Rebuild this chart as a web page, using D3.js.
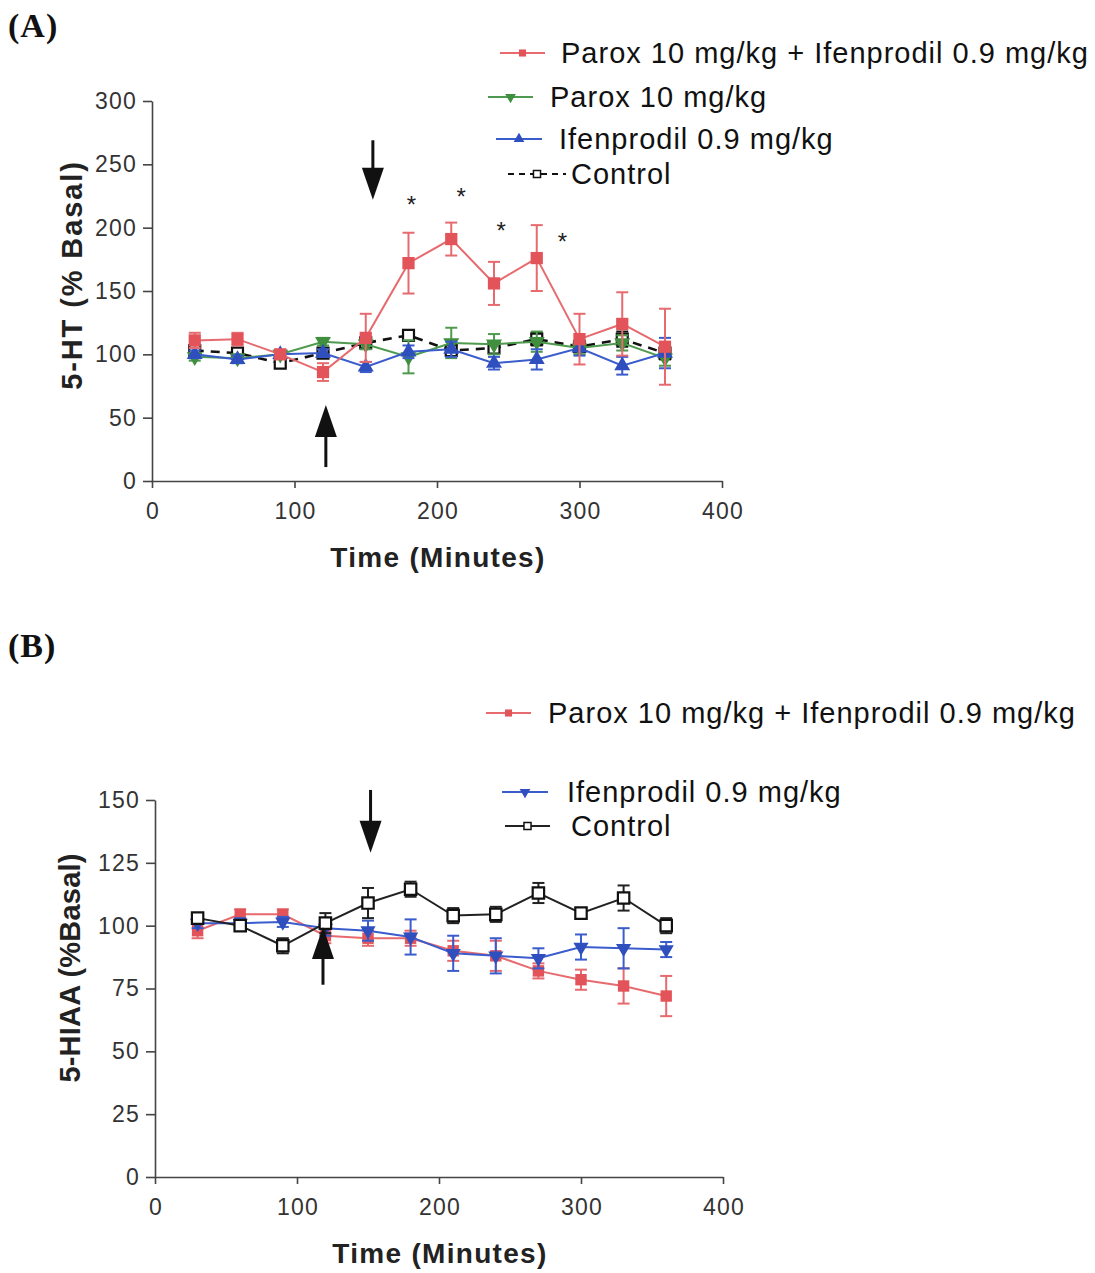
<!DOCTYPE html>
<html>
<head>
<meta charset="utf-8">
<script src="https://cdn.jsdelivr.net/npm/d3@7"></script>
<style>
  html, body { margin: 0; padding: 0; background: #fff; }
  svg { display: block; }
  text { font-family: "Liberation Sans", Arial, sans-serif; }
</style>
</head>
<body>
<svg id="fig" width="1095" height="1273"></svg>
<script>
// Sampling times (minutes)
const times = [30, 60, 90, 120, 150, 180, 210, 240, 270, 300, 330, 360];

// Panel A: extracellular 5-HT (% basal), mean and SEM
const htComboMean   = [111, 112, 100, 86, 113, 172, 191, 156, 176, 112, 124, 106];
const htComboSem    = [6, 5, 3, 7, 19, 24, 13, 17, 26, 20, 25, 30];
const htParoxMean   = [98, 97, 100, 110, 108, 98, 109, 108, 110, 105, 109, 97];
const htParoxSem    = [3, 3, 3, 3, 4, 13, 12, 8, 8, 5, 6, 6];
const htIfenMean    = [100, 96, 100, 101, 90, 102, 104, 93, 96, 105, 91, 101];
const htIfenSem     = [3, 3, 3, 3, 4, 5, 6, 5, 8, 6, 7, 12];
const htControlMean = [103, 101, 93, 101, 109, 115, 103, 105, 112, 106, 112, 101];
const htControlSem  = [3, 3, 3, 3, 4, 3, 4, 4, 5, 4, 6, 5];

// Panel B: extracellular 5-HIAA (% basal), mean and SEM
const hiaaComboMean   = [98, 104.5, 104.5, 96, 95, 95, 90, 88, 82, 78.5, 76, 72];
const hiaaComboSem    = [3, 2, 2, 3, 3, 3, 4, 6, 3, 4, 7, 8];
const hiaaIfenMean    = [101, 101, 101.5, 99, 98, 95.5, 89, 88, 87, 91.5, 91, 90.5];
const hiaaIfenSem     = [2, 2, 2, 3, 4, 7, 7, 7, 4, 5, 8, 3];
const hiaaControlMean = [103, 100, 92, 101, 109, 114.5, 104, 104.5, 113, 105, 111, 100];
const hiaaControlSem  = [2, 2, 3, 4, 6, 3, 3, 3, 4, 2, 5, 3];

// Axis ticks
const xTicks  = [0, 100, 200, 300, 400];
const yTicksA = [0, 50, 100, 150, 200, 250, 300];
const yTicksB = [0, 25, 50, 75, 100, 125, 150];

// Legend labels
const labelCombo   = "Parox 10 mg/kg + Ifenprodil 0.9 mg/kg";
const labelParox   = "Parox 10 mg/kg";
const labelIfen    = "Ifenprodil 0.9 mg/kg";
const labelControl = "Control";

// Significance markers (time, % basal) in panel A
const starsA = [[182, 222], [217, 228], [245, 201], [288, 193]];

// Drug administration arrows: [time, tail value, tip value]
const arrowsA = [[155, 269, 222], [122, 11, 60]];
const arrowsB = [[151.8, 154, 129], [118.3, 76.5, 99.5]];

const RED = "#e2545a", RED_LINE = "#e66a6e";
const GREEN = "#3f8f3f", GREEN_LINE = "#4e9a4e";
const BLUE = "#2f4fbf", BLUE_LINE = "#3a5ccc";
const BLACK = "#111";

const svg = d3.select("#fig");

function drawPanel(cfg) {
  const g = svg.append("g");
  const x = d3.scaleLinear().domain([0, 400]).range(cfg.xRange);
  const y = d3.scaleLinear().domain(cfg.yDomain).range(cfg.yRange);

  // axes
  const ax = g.append("g").attr("transform", `translate(0,${cfg.yRange[0]})`)
    .call(d3.axisBottom(x).tickValues(xTicks).tickSize(7).tickSizeOuter(0).tickPadding(15));
  const ay = g.append("g").attr("transform", `translate(${cfg.xRange[0]},0)`)
    .call(d3.axisLeft(y).tickValues(cfg.yTicks).tickSize(9).tickSizeOuter(0).tickPadding(6));
  [ax, ay].forEach(a => {
    a.attr("font-size", null).attr("font-family", null);
    a.select(".domain").attr("stroke", "#444").attr("stroke-width", 1.6);
    a.selectAll(".tick line").attr("stroke", "#444").attr("stroke-width", 1.6);
    a.selectAll(".tick text").attr("fill", "#333").style("font-size", "23px").style("letter-spacing", "1.2px");
  });
  ax.selectAll(".tick text").attr("dx", "0.6px");

  // axis titles
  g.append("text").attr("x", cfg.xTitle[0]).attr("y", cfg.xTitle[1])
    .attr("text-anchor", "middle").style("font-size", "28px").style("font-weight", "bold")
    .style("letter-spacing", "1.3px").attr("fill", "#222").text("Time (Minutes)");
  g.append("text").attr("transform", `translate(${cfg.yTitle[0]},${cfg.yTitle[1]}) rotate(-90)`)
    .attr("text-anchor", "middle").style("font-size", "29px").style("font-weight", "bold")
    .style("letter-spacing", cfg.yTitleSpacing).attr("fill", "#222").text(cfg.yTitleText);

  // panel letter
  g.append("text").attr("x", 8).attr("y", cfg.letterY)
    .style("font-family", "'Liberation Serif', 'Times New Roman', serif")
    .style("font-size", "34px").style("font-weight", "bold").style("letter-spacing", "1px")
    .attr("fill", "#111").text(cfg.letter);

  // series
  const line = d3.line().x(d => x(d.t)).y(d => y(d.m));
  cfg.series.forEach(s => {
    const data = times.map((t, i) => ({ t, m: s.mean[i], e: s.sem[i] }));
    const sg = g.append("g");
    // error bars
    const eb = sg.selectAll(".eb").data(data).join("g");
    eb.append("line").attr("x1", d => x(d.t)).attr("x2", d => x(d.t))
      .attr("y1", d => y(d.m - d.e)).attr("y2", d => y(d.m + d.e))
      .attr("stroke", s.lineColor).attr("stroke-width", 2);
    [1, -1].forEach(sign => {
      eb.append("line").attr("x1", d => x(d.t) - 6).attr("x2", d => x(d.t) + 6)
        .attr("y1", d => y(d.m + sign * d.e)).attr("y2", d => y(d.m + sign * d.e))
        .attr("stroke", s.lineColor).attr("stroke-width", 2);
    });
    sg.append("path").datum(data).attr("d", line).attr("fill", "none")
      .attr("stroke", s.lineColor).attr("stroke-width", s.width || 2)
      .attr("stroke-dasharray", s.dash || null);
    sg.selectAll(".mk").data(data).join("path")
      .attr("transform", d => `translate(${x(d.t)},${y(d.m)})${s.down ? " rotate(180)" : ""}`)
      .attr("d", d3.symbol().type(s.symbol).size(s.size || 130))
      .attr("fill", s.open ? "#fff" : s.color)
      .attr("stroke", s.open ? s.color : "none").attr("stroke-width", 2.2);
  });

  // arrows
  cfg.arrows.forEach(([t, v0, v1]) => {
    const ax0 = x(t), y0 = y(v0), y1 = y(v1);
    const dir = y1 > y0 ? 1 : -1;
    const headLen = 32, headW = 11;
    g.append("line").attr("x1", ax0).attr("x2", ax0).attr("y1", y0).attr("y2", y1 - dir * headLen + dir * 2)
      .attr("stroke", "#111").attr("stroke-width", 3);
    g.append("path")
      .attr("d", `M${ax0},${y1} L${ax0 - headW},${y1 - dir * headLen} L${ax0 + headW},${y1 - dir * headLen} Z`)
      .attr("fill", "#111");
  });

  // stars
  (cfg.stars || []).forEach(([t, v]) => {
    g.append("text").attr("x", x(t)).attr("y", y(v) + 13).attr("text-anchor", "middle")
      .style("font-size", "24px").attr("fill", "#222").text("*");
  });

  // legend
  cfg.legend.forEach(l => {
    const lg = g.append("g");
    lg.append("line").attr("x1", l.x0).attr("x2", l.x1).attr("y1", l.y).attr("y2", l.y)
      .attr("stroke", l.s.lineColor).attr("stroke-width", 2)
      .attr("stroke-dasharray", l.s.dash ? "6,5" : null);
    lg.append("path")
      .attr("transform", `translate(${(l.x0 + l.x1) / 2},${l.y})${l.s.down ? " rotate(180)" : ""}`)
      .attr("d", d3.symbol().type(l.s.symbol).size(50))
      .attr("fill", l.s.open ? "#fff" : l.s.color)
      .attr("stroke", l.s.open ? l.s.color : "none").attr("stroke-width", 1.5);
    lg.append("text").attr("x", l.tx).attr("y", l.y + 10)
      .style("font-size", "29px").style("letter-spacing", "1px").attr("fill", "#111").text(l.label);
  });
}

const sComboA = { mean: htComboMean, sem: htComboSem, color: RED, lineColor: RED_LINE, symbol: d3.symbolSquare, size: 150 };
const sParoxA = { mean: htParoxMean, sem: htParoxSem, color: GREEN, lineColor: GREEN_LINE, symbol: d3.symbolTriangle, down: true, size: 110 };
const sIfenA  = { mean: htIfenMean, sem: htIfenSem, color: BLUE, lineColor: BLUE_LINE, symbol: d3.symbolTriangle, size: 110 };
const sCtrlA  = { mean: htControlMean, sem: htControlSem, color: BLACK, lineColor: BLACK, symbol: d3.symbolSquare, open: true, size: 120, dash: "9,7", width: 2.6 };

drawPanel({
  letter: "(A)", letterY: 37,
  xRange: [152, 722], yRange: [481, 101], yDomain: [0, 300], yTicks: yTicksA,
  xTitle: [438, 567], yTitle: [82, 275], yTitleText: "5-HT (% Basal)", yTitleSpacing: "1.9px",
  series: [sCtrlA, sParoxA, sIfenA, sComboA],
  arrows: arrowsA, stars: starsA,
  legend: [
    { s: sComboA, label: labelCombo, x0: 500, x1: 545, tx: 561, y: 53 },
    { s: sParoxA, label: labelParox, x0: 488, x1: 533, tx: 550, y: 97 },
    { s: sIfenA,  label: labelIfen,  x0: 496, x1: 542, tx: 559, y: 139 },
    { s: sCtrlA,  label: labelControl, x0: 508, x1: 566, tx: 571, y: 174 }
  ]
});

const sComboB = { mean: hiaaComboMean, sem: hiaaComboSem, color: RED, lineColor: RED_LINE, symbol: d3.symbolSquare, size: 130 };
const sIfenB  = { mean: hiaaIfenMean, sem: hiaaIfenSem, color: BLUE, lineColor: BLUE_LINE, symbol: d3.symbolTriangle, down: true, size: 100 };
const sCtrlB  = { mean: hiaaControlMean, sem: hiaaControlSem, color: BLACK, lineColor: "#222", symbol: d3.symbolSquare, open: true, size: 130 };

drawPanel({
  letter: "(B)", letterY: 657,
  xRange: [155, 723], yRange: [1177, 800], yDomain: [0, 150], yTicks: yTicksB,
  xTitle: [440, 1263], yTitle: [80, 968], yTitleText: "5-HIAA (%Basal)", yTitleSpacing: "0.2px",
  series: [sComboB, sIfenB, sCtrlB],
  arrows: arrowsB,
  legend: [
    { s: sComboB, label: labelCombo, x0: 486, x1: 531, tx: 548, y: 713 },
    { s: sIfenB,  label: labelIfen,  x0: 502, x1: 548, tx: 567, y: 792 },
    { s: sCtrlB,  label: labelControl, x0: 505, x1: 550, tx: 571, y: 826 }
  ]
});
</script>
</body>
</html>
